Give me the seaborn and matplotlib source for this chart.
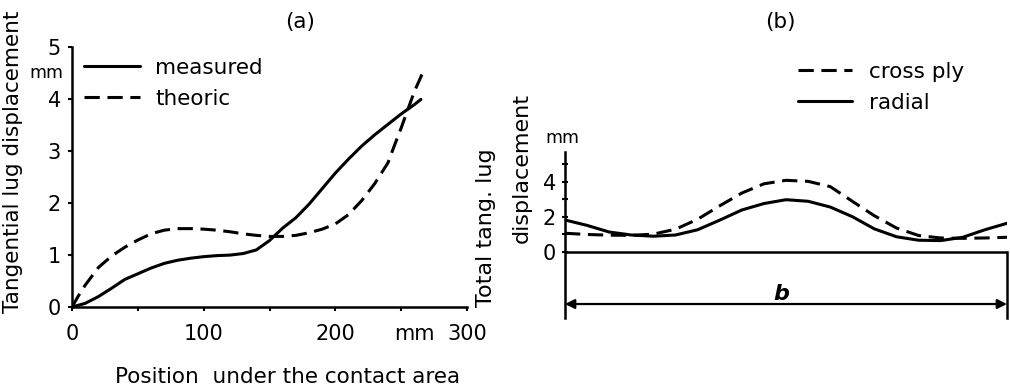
import numpy as np
import pandas as pd
import matplotlib
matplotlib.use("Agg")
import matplotlib.pyplot as plt
import seaborn as sns

# ---------------- data ----------------
# panel (a): position under contact area (mm) vs tangential lug displacement (mm)
meas_x = [0, 10, 20, 30, 40, 50, 60, 70, 80, 90, 100, 110, 120, 130, 140, 150,
          160, 170, 180, 190, 200, 210, 220, 230, 240, 250, 260, 265]
meas_y = [0, 0.07, 0.2, 0.36, 0.53, 0.64, 0.75, 0.84, 0.9, 0.94, 0.97, 0.99, 1.0,
          1.03, 1.1, 1.28, 1.52, 1.72, 1.98, 2.28, 2.58, 2.85, 3.1, 3.32, 3.52,
          3.72, 3.9, 4.0]
theo_x = [0, 5, 10, 20, 30, 40, 50, 60, 70, 80, 90, 100, 110, 120, 130, 140, 150,
          160, 170, 180, 190, 200, 210, 220, 230, 240, 245, 250, 255, 260, 267]
theo_y = [0, 0.22, 0.42, 0.76, 0.98, 1.15, 1.29, 1.41, 1.48, 1.51, 1.51, 1.5, 1.48,
          1.45, 1.41, 1.38, 1.36, 1.36, 1.38, 1.43, 1.5, 1.6, 1.78, 2.05, 2.38,
          2.78, 3.12, 3.45, 3.8, 4.15, 4.55]

# panel (b): relative position along b vs total tangential lug displacement (mm)
b_pos = [0, 0.05, 0.1, 0.15, 0.2, 0.25, 0.3, 0.35, 0.4, 0.45, 0.5, 0.55, 0.6,
         0.65, 0.7, 0.75, 0.8, 0.85, 0.9, 0.95, 1.0]
cross_ply = [1.05, 0.98, 0.94, 0.93, 1.0, 1.28, 1.85, 2.62, 3.35, 3.88, 4.08, 4.02,
             3.72, 2.88, 2.05, 1.35, 0.92, 0.78, 0.76, 0.78, 0.82]
radial = [1.81, 1.5, 1.12, 0.95, 0.88, 0.95, 1.25, 1.8, 2.38, 2.75, 2.97, 2.88,
          2.55, 2.0, 1.3, 0.85, 0.65, 0.63, 0.82, 1.25, 1.62]

a_xticks = [0, 50, 100, 150, 200, 250, 300]
a_xticklabels = ["0", "", "100", "", "200", "", "300"]
a_yticks = [0, 1, 2, 3, 4, 5]
b_yticks = [0, 1, 2, 3, 4, 5]
b_yticklabels = ["0", "", "2", "", "4", ""]

# ---------------- style ----------------
sns.set_theme(style="ticks")
plt.rcParams["font.family"] = ["DejaVu Sans"]
plt.rcParams["text.color"] = "black"
plt.rcParams["axes.labelcolor"] = "black"
plt.rcParams["xtick.color"] = "black"
plt.rcParams["ytick.color"] = "black"
FS = 15.5
TFS = 15
MMFS = 12.5
LW = 2.2
DASH = (0, (5, 2.5))

W, H = 1010, 391
fig = plt.figure(figsize=(W / 100, H / 100), dpi=100)
fig.patch.set_facecolor("white")

def fx(px):
    return px / W

def fy(py):
    return 1 - py / H

# ---------------- panel (a) ----------------
axa = fig.add_axes([fx(72), fy(307), (467 - 72) / W, (307 - 47.5) / H])
da_m = pd.DataFrame({"x": meas_x, "y": meas_y})
da_t = pd.DataFrame({"x": theo_x, "y": theo_y})
sns.lineplot(data=da_m, x="x", y="y", ax=axa, color="black", lw=LW, label="measured")
sns.lineplot(data=da_t, x="x", y="y", ax=axa, color="black", lw=LW, linestyle=DASH,
             label="theoric")
axa.set_xlim(0, 300)
axa.set_ylim(0, 5)
axa.set_xticks(a_xticks)
axa.set_xticklabels(a_xticklabels)
axa.set_yticks(a_yticks)
axa.set_yticklabels([str(v) for v in a_yticks])
axa.tick_params(axis="both", direction="out", length=3, width=1.5, labelsize=TFS,
                colors="black")
axa.tick_params(axis="x", pad=9)
axa.tick_params(axis="y", pad=5)
sns.despine(ax=axa)
for s in ("left", "bottom"):
    axa.spines[s].set_linewidth(1.8)
    axa.spines[s].set_color("black")
axa.set_xlabel("")
axa.set_ylabel("")
axa.set_facecolor("white")
axa.text(-0.022, 4.5, "mm", transform=axa.get_yaxis_transform(), ha="right",
         va="center", fontsize=MMFS)
axa.text(260, -0.105, "mm", transform=axa.get_xaxis_transform(), ha="center",
         va="center", fontsize=TFS)
axa.legend(loc="upper left", bbox_to_anchor=(fx(84), fy(58)),
           bbox_transform=fig.transFigure, frameon=False, fontsize=FS,
           handlelength=2.6, handletextpad=0.7, labelspacing=0.5, borderpad=0,
           borderaxespad=0)

fig.text(fx(300), fy(22), "(a)", ha="center", va="center", fontsize=FS)
fig.text(fx(13), fy(162), "Tangential lug displacement", rotation=90,
         ha="center", va="center", fontsize=15.5)
fig.text(fx(115), fy(377), "Position  under the contact area", ha="left",
         va="center", fontsize=FS)

# ---------------- panel (b) ----------------
axb = fig.add_axes([fx(565), fy(318), (1007 - 565) / W, (318 - 152) / H])
db_c = pd.DataFrame({"x": b_pos, "y": cross_ply})
db_r = pd.DataFrame({"x": b_pos, "y": radial})
sns.lineplot(data=db_c, x="x", y="y", ax=axb, color="black", lw=LW, linestyle=DASH,
             label="cross ply")
sns.lineplot(data=db_r, x="x", y="y", ax=axb, color="black", lw=LW, label="radial")
axb.set_xlim(0, 1)
axb.set_ylim(-3.8, 5.7)
axb.set_xticks([])
axb.set_yticks(b_yticks)
axb.set_yticklabels(b_yticklabels)
axb.tick_params(axis="y", direction="inout", length=5, width=1.5, labelsize=TFS,
                pad=4, colors="black")
for s in ("top", "bottom"):
    axb.spines[s].set_visible(False)
axb.spines["left"].set_linewidth(1.8)
axb.spines["left"].set_color("black")
axb.spines["right"].set_linewidth(1.8)
axb.spines["right"].set_color("black")
axb.spines["right"].set_bounds(-3.8, 0)
axb.axhline(0, color="black", lw=1.8)
axb.annotate("", xy=(0, -3.0), xytext=(1, -3.0),
             arrowprops=dict(arrowstyle="<|-|>", color="black", lw=1.6,
                             mutation_scale=14, shrinkA=0, shrinkB=0))
axb.text(0.49, -2.4, "b", ha="center", va="center", fontsize=16,
         style="italic", fontweight="bold")
axb.text(-0.005, 6.5, "mm", ha="center", va="center", fontsize=MMFS, clip_on=False)
axb.set_xlabel("")
axb.set_ylabel("")
axb.set_facecolor("none")
axb.legend(loc="upper left", bbox_to_anchor=(fx(798), fy(62)),
           bbox_transform=fig.transFigure, frameon=False, fontsize=FS,
           handlelength=2.5, handletextpad=0.8, labelspacing=0.5, borderpad=0,
           borderaxespad=0)

fig.text(fx(780), fy(22), "(b)", ha="center", va="center", fontsize=FS)
fig.text(fx(486), fy(228), "Total tang. lug", rotation=90, ha="center",
         va="center", fontsize=16)
fig.text(fx(522), fy(168), "displacement", rotation=90, ha="center",
         va="center", fontsize=16)

fig.savefig("out.png", dpi=100, facecolor="white")
